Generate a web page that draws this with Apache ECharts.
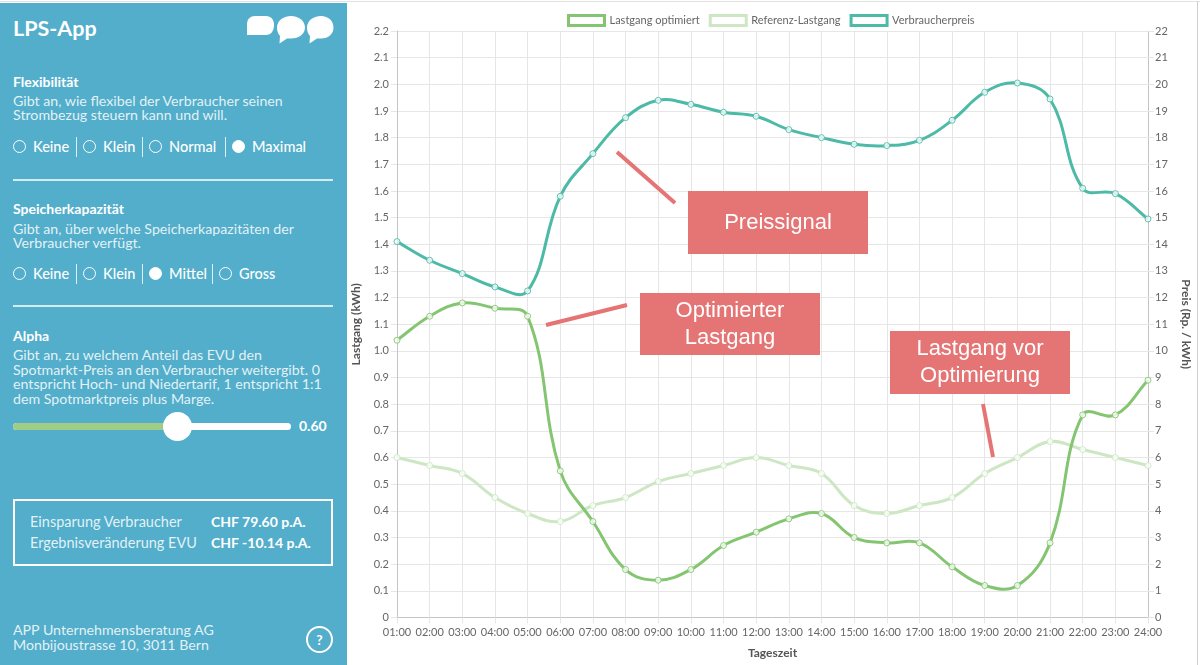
<!DOCTYPE html>
<html>
<head>
<meta charset="utf-8">
<script src="https://cdn.jsdelivr.net/npm/echarts@6/dist/echarts.min.js"></script>
<style>
  body { margin: 0; width: 1200px; height: 665px; overflow: hidden; background: #fff; font-family: Lato, "Open Sans", sans-serif; }
  #main { position: absolute; left: 0; top: 0; width: 1200px; height: 665px; }
  #topline { position: absolute; left: 0; top: 1px; width: 1200px; height: 1px; background: #e2e2e2; }
  #rightline { position: absolute; left: 1197px; top: 1px; width: 1px; height: 664px; background: #cfcfcf; }
  #panel { position: absolute; left: 0; top: 3px; width: 347px; height: 662px; background: #53aecb; color: #fff; }
  .t { position: absolute; white-space: nowrap; line-height: 20px; height: 20px; }
  .h { font-weight: 700; font-size: 14px; }
  .d { position: absolute; white-space: nowrap; font-size: 14.2px; line-height: 14.6px; color: rgba(255,255,255,0.85); }
  .r { font-size: 14.5px; font-weight: 500; }
  .c { position: absolute; width: 11px; height: 11px; border: 1.5px solid #fff; border-radius: 50%; }
  .c.on { background: #fff; }
  .s { position: absolute; width: 1px; height: 20px; background: rgba(255,255,255,0.8); }
  .hr { position: absolute; left: 13px; width: 320px; height: 2px; background: rgba(255,255,255,0.75); }
</style>
</head>
<body>
<div id="main"></div>
<div id="topline"></div>
<div id="rightline"></div>
<div id="panel"></div>
<script>
// Tageszeit
var hours = ['01:00', '02:00', '03:00', '04:00', '05:00', '06:00', '07:00', '08:00', '09:00', '10:00', '11:00', '12:00',
    '13:00', '14:00', '15:00', '16:00', '17:00', '18:00', '19:00', '20:00', '21:00', '22:00', '23:00', '24:00'];

// Lastgang (kWh)
var lastgangOptimiert = [1.04, 1.13, 1.18, 1.16, 1.13, 0.55, 0.36, 0.18, 0.14, 0.18, 0.27, 0.32,
    0.37, 0.39, 0.30, 0.28, 0.28, 0.19, 0.12, 0.12, 0.28, 0.76, 0.76, 0.89];
var referenzLastgang = [0.60, 0.57, 0.54, 0.45, 0.39, 0.36, 0.42, 0.45, 0.51, 0.54, 0.57, 0.60,
    0.57, 0.54, 0.42, 0.39, 0.42, 0.45, 0.54, 0.60, 0.66, 0.63, 0.60, 0.57];

// Preis (Rp. / kWh)
var verbraucherpreis = [14.1, 13.4, 12.9, 12.4, 12.25, 15.8, 17.4, 18.75, 19.4, 19.25, 18.95, 18.8,
    18.3, 18.0, 17.75, 17.7, 17.9, 18.65, 19.7, 20.05, 19.45, 16.1, 15.9, 14.95];

var legendNames = ['Lastgang optimiert', 'Referenz-Lastgang', 'Verbraucherpreis'];

var cOpt = '#84c571';
var cRef = '#cde7c4';
var cPreis = '#4cbaa7';

// linke Spalte
var panel = document.getElementById('panel');
var html = '';
function txt(x, cy, s, cls, extra) {
    html += '<div class="t ' + (cls || '') + '" style="left:' + x + 'px;top:' + (cy - 3 - 10) + 'px;' + (extra || '') + '">' + s + '</div>';
}
function desc(x, cy, lines) {
    html += '<div class="d" style="left:' + x + 'px;top:' + (cy - 3 - 7.8) + 'px">' + lines.join('<br>') + '</div>';
}
function radio(x, cy, on) {
    html += '<div class="c' + (on ? ' on' : '') + '" style="left:' + x + 'px;top:' + (cy - 3 - 7) + 'px"></div>';
}
function sep(x, cy) {
    html += '<div class="s" style="left:' + x + 'px;top:' + (cy - 3 - 10) + 'px"></div>';
}
function radioRow(cy, items) {
    items.forEach(function (it, i) {
        radio(it[0], cy, it[2]);
        txt(it[0] + 20, cy, it[1], 'r');
        if (i < items.length - 1) sep(items[i + 1][0] - 7, cy);
    });
}

txt(13, 28, 'LPS-App', '', 'font-size:21.5px;font-weight:700;line-height:30px;height:30px;top:10px');
html += '<svg style="position:absolute;left:0;top:-3px" width="347" height="60" fill="#fff">' +
    '<path d="M255 16 L266 16 C271 16 274 19.5 274 25 C274 31 271 35 266 35 L247 35 L247 24 C247 19 250.5 16 255 16 Z"/>' +
    '<path d="M291 16 C299 16 305 21 305 27.5 C305 34 299 38.5 291 38.5 L287 38.5 L279.5 43.5 L280 36 C278 34 277 31 277 27.5 C277 21 283 16 291 16 Z"/>' +
    '<path d="M321 16 C328.5 16 333.5 21 333.5 27.5 C333.5 34 328.5 38.5 321 38.5 L317 38.5 L309.5 43.5 L310 36 C308 34 307 31 307 27.5 C307 21 313 16 321 16 Z"/>' +
    '</svg>';

txt(13, 81.5, 'Flexibilität', 'h');
desc(13, 101.5, ['Gibt an, wie flexibel der Verbraucher seinen', 'Strombezug steuern kann und will.']);
radioRow(147, [[13, 'Keine', false], [83, 'Klein', false], [149, 'Normal', false], [232, 'Maximal', true]]);
html += '<div class="hr" style="top:' + (179 - 3) + 'px"></div>';

txt(13, 208.5, 'Speicherkapazität', 'h');
desc(13, 229.5, ['Gibt an, über welche Speicherkapazitäten der', 'Verbraucher verfügt.']);
radioRow(274, [[13, 'Keine', false], [83, 'Klein', false], [149, 'Mittel', true], [219, 'Gross', false]]);
html += '<div class="hr" style="top:' + (305 - 3) + 'px"></div>';

txt(13, 336, 'Alpha', 'h');
desc(13, 356, ['Gibt an, zu welchem Anteil das EVU den', 'Spotmarkt-Preis an den Verbraucher weitergibt. 0',
    'entspricht Hoch- und Niedertarif, 1 entspricht 1:1', 'dem Spotmarktpreis plus Marge.']);

// Slider
html += '<div style="position:absolute;left:13px;top:' + (426 - 3 - 3.5) + 'px;width:278px;height:7px;border-radius:4px;background:#fff"></div>';
html += '<div style="position:absolute;left:13px;top:' + (426 - 3 - 3.5) + 'px;width:165px;height:7px;border-radius:4px;background:#9fcd85"></div>';
html += '<div style="position:absolute;left:163px;top:' + (426 - 3 - 14.5) + 'px;width:29px;height:29px;border-radius:50%;background:#fff"></div>';
txt(299, 426, '0.60', 'h');

// Ergebnis-Box
html += '<div style="position:absolute;left:13px;top:' + (499 - 3) + 'px;width:316px;height:63px;border:2px solid #fff"></div>';
txt(30, 522, 'Einsparung Verbraucher', '', 'font-size:14.5px;color:rgba(255,255,255,0.85)');
txt(211, 522, 'CHF 79.60 p.A.', 'h');
txt(30, 543, 'Ergebnisveränderung EVU', '', 'font-size:14.5px;color:rgba(255,255,255,0.85)');
txt(211, 543, 'CHF -10.14 p.A.', 'h');

// Fusszeile
desc(13, 631, ['APP Unternehmensberatung AG', 'Monbijoustrasse 10, 3011 Bern']);
html += '<div style="position:absolute;left:306px;top:' + (626 - 3) + 'px;width:23px;height:23px;border:2px solid #fff;border-radius:50%;' +
    'text-align:center;line-height:23px;font-weight:700;font-size:14px">?</div>';
panel.innerHTML = html;

// Diagramm
var chartDom = document.getElementById('main');
var myChart = echarts.init(chartDom);
var option;

var gridColor = '#e6e6e6';
var axisColor = '#c4c4c4';
var labelColor = '#666';
var tension = 0.4;

// Kurve wie bei Chart.js (Spline mit Tension), Punkte über die Achsen umgerechnet
function splineSeries(name, values, yAxisIndex, color, z) {
    return {
        name: name,
        type: 'custom',
        coordinateSystem: 'cartesian2d',
        yAxisIndex: yAxisIndex,
        z: z,
        data: values.map(function (v, i) { return [i, v]; }),
        encode: { x: 0, y: 1 },
        itemStyle: { color: color },
        renderItem: function (params, api) {
            var children = [];
            if (params.dataIndex === 0) {
                var pts = values.map(function (v, i) { return api.coord([i, v]); });
                var cps = pts.map(function (p, i) {
                    var prev = pts[i - 1] || p, next = pts[i + 1] || p;
                    var d01 = Math.hypot(p[0] - prev[0], p[1] - prev[1]);
                    var d12 = Math.hypot(next[0] - p[0], next[1] - p[1]);
                    var s01 = d01 / (d01 + d12) || 0, s12 = d12 / (d01 + d12) || 0;
                    var fa = tension * s01, fb = tension * s12;
                    return {
                        prev: [p[0] - fa * (next[0] - prev[0]), p[1] - fa * (next[1] - prev[1])],
                        next: [p[0] + fb * (next[0] - prev[0]), p[1] + fb * (next[1] - prev[1])]
                    };
                });
                for (var i = 1; i < pts.length; i++) {
                    children.push({
                        type: 'bezierCurve',
                        shape: {
                            x1: pts[i - 1][0], y1: pts[i - 1][1],
                            cpx1: cps[i - 1].next[0], cpy1: cps[i - 1].next[1],
                            cpx2: cps[i].prev[0], cpy2: cps[i].prev[1],
                            x2: pts[i][0], y2: pts[i][1]
                        },
                        style: { stroke: color, lineWidth: 3, fill: 'none' }
                    });
                }
            }
            var c = api.coord([api.value(0), api.value(1)]);
            children.push({
                type: 'circle',
                shape: { cx: c[0], cy: c[1], r: 3 },
                style: { fill: 'rgba(255,255,255,0.85)', stroke: color, lineWidth: 1, opacity: 0.9 }
            });
            return { type: 'group', children: children };
        }
    };
}

function box(x, y, w, h, lines) {
    return [
        { type: 'rect', shape: { x: x, y: y, width: w, height: h }, style: { fill: '#e57574' }, z: 100 },
        { type: 'text', x: x + w / 2, y: y + h / 2, z: 101,
          style: { text: lines.join('\n'), fill: '#fff', font: '22px "Liberation Sans", Arial, sans-serif',
                   align: 'center', verticalAlign: 'middle', lineHeight: 27 } }
    ];
}
function pointer(x1, y1, x2, y2) {
    return { type: 'line', z: 100, shape: { x1: x1, y1: y1, x2: x2, y2: y2 },
             style: { stroke: '#e57574', lineWidth: 4 } };
}

option = {
    animation: false,
    textStyle: { fontFamily: 'Lato, sans-serif' },
    legend: {
        top: 9,
        left: 562,
        icon: 'rect',
        itemWidth: 36,
        itemHeight: 10,
        itemGap: 9,
        textStyle: { color: labelColor, fontSize: 11 },
        data: [
            { name: legendNames[0], itemStyle: { color: '#fff', borderColor: cOpt, borderWidth: 3 } },
            { name: legendNames[1], itemStyle: { color: '#fff', borderColor: cRef, borderWidth: 3 } },
            { name: legendNames[2], itemStyle: { color: '#fff', borderColor: cPreis, borderWidth: 3 } }
        ]
    },
    grid: { left: 397, right: 48, top: 31, bottom: 47.5 },
    xAxis: {
        type: 'category',
        data: hours,
        boundaryGap: false,
        name: 'Tageszeit',
        nameLocation: 'middle',
        nameGap: 30,
        nameTextStyle: { color: '#555', fontSize: 12, fontWeight: 'bold' },
        axisLine: { lineStyle: { color: axisColor } },
        axisTick: { length: 6, lineStyle: { color: gridColor }, interval: 0 },
        axisLabel: { color: labelColor, fontSize: 11, margin: 9, interval: 0 },
        splitLine: { show: true, interval: 0, lineStyle: { color: gridColor } }
    },
    yAxis: [
        {
            type: 'value',
            min: 0,
            max: 2.2,
            interval: 0.1,
            name: 'Lastgang (kWh)',
            nameLocation: 'middle',
            nameRotate: 90,
            nameGap: 35,
            nameTextStyle: { color: '#555', fontSize: 12, fontWeight: 'bold' },
            axisLine: { show: true, lineStyle: { color: axisColor } },
            axisTick: { show: true, length: 6, lineStyle: { color: gridColor } },
            axisLabel: {
                color: labelColor, fontSize: 11, margin: 8,
                formatter: function (v) { return v === 0 ? '0' : v.toFixed(1); }
            },
            splitLine: { show: true, lineStyle: { color: gridColor } }
        },
        {
            type: 'value',
            min: 0,
            max: 22,
            interval: 1,
            position: 'right',
            name: 'Preis (Rp. / kWh)',
            nameLocation: 'middle',
            nameRotate: -90,
            nameGap: 32,
            nameTextStyle: { color: '#555', fontSize: 12, fontWeight: 'bold' },
            axisLine: { show: true, lineStyle: { color: axisColor } },
            axisTick: { show: true, length: 6, lineStyle: { color: gridColor } },
            axisLabel: { color: labelColor, fontSize: 11, margin: 7 },
            splitLine: { show: false }
        }
    ],
    series: [
        splineSeries(legendNames[0], lastgangOptimiert, 0, cOpt, 5),
        splineSeries(legendNames[1], referenzLastgang, 0, cRef, 4),
        splineSeries(legendNames[2], verbraucherpreis, 1, cPreis, 3)
    ],
    graphic: [].concat(
        box(688, 191, 180, 63, ['Preissignal']),
        box(640, 293, 180, 62, ['Optimierter', 'Lastgang']),
        box(890, 331, 180, 63, ['Lastgang vor', 'Optimierung']),
        [pointer(617, 152, 675, 203), pointer(546, 325, 627, 305), pointer(983, 404, 993, 457)]
    )
};

option && myChart.setOption(option);
</script>
</body>
</html>
